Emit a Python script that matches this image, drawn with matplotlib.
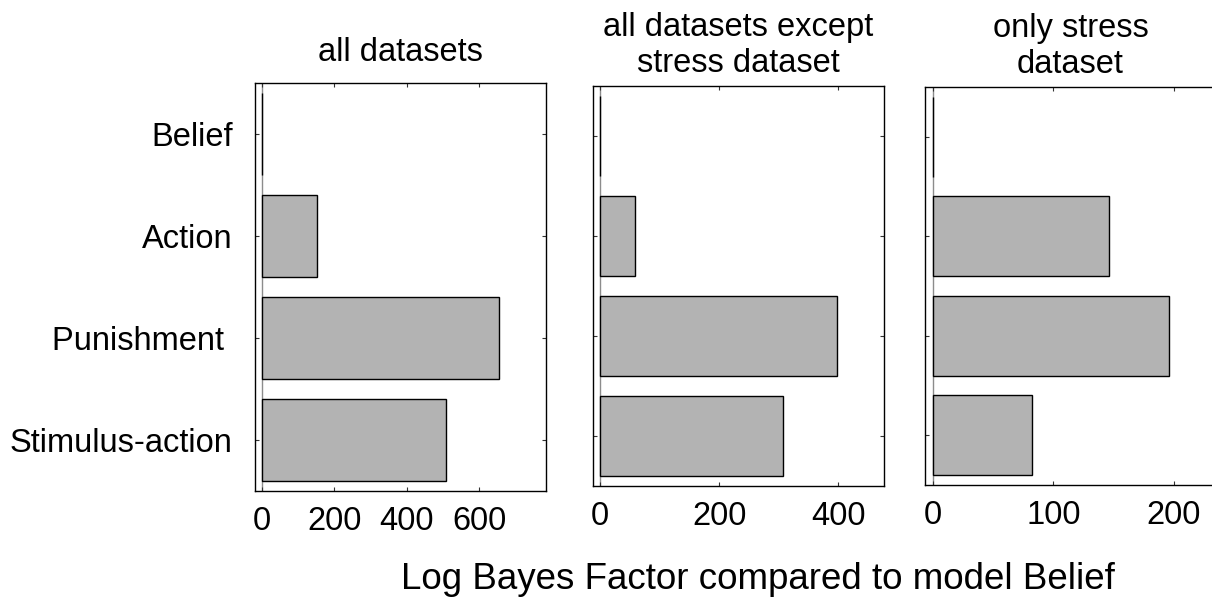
import matplotlib
matplotlib.use("Agg")
import matplotlib.pyplot as plt

plt.rcParams['font.family'] = ['Liberation Sans', 'DejaVu Sans']

models = ["Belief", "Action", "Punishment ", "Stimulus-action"]
bf_all = [0, 152, 654, 508]
bf_no_stress = [0, 59, 398, 308]
bf_stress = [0, 146, 196, 82]

titles = ["all datasets", "all datasets except\nstress dataset", "only stress\ndataset"]
xticks = [[0, 200, 400, 600], [0, 200, 400], [0, 100, 200]]
xlims = [(-19, 784), (-12, 477), (-6.4, 235)]

fig = plt.figure(figsize=(12.12, 5.99), dpi=100)
rects = [
    [0.2104, 0.1803, 0.2401, 0.6811],
    [0.4893, 0.1886, 0.2401, 0.6678],
    [0.7632, 0.1903, 0.2401, 0.6644],
]
pads = [16, 10, 10]

ypos = [1, 2, 3, 4]
for i, vals in enumerate([bf_all, bf_no_stress, bf_stress]):
    ax = fig.add_axes(rects[i])
    ax.axvline(0, color="#8c8c8c", lw=1.0, zorder=1)
    ax.barh(ypos, vals, height=0.8, color="#b3b3b3", edgecolor="black",
            linewidth=1.0, zorder=2)
    ax.set_ylim(4.5, 0.5)
    ax.set_xlim(*xlims[i])
    ax.set_yticks(ypos)
    ax.set_xticks(xticks[i])
    if i == 0:
        ax.set_yticklabels(models)
    else:
        ax.set_yticklabels([])
    ax.tick_params(direction="in", length=3, width=0.8, top=True, right=True,
                   labelsize=23.5, color="#333333")
    ax.tick_params(axis="y", pad=16)
    ax.tick_params(axis="x", pad=11)
    for s in ax.spines.values():
        s.set_linewidth(1.0)
    ax.set_title(titles[i], fontsize=23.5, pad=pads[i], linespacing=1.22)

fig.text(0.625, 0.032, "Log Bayes Factor compared to model Belief",
         ha="center", va="center", fontsize=26.5)

fig.savefig("out.png", dpi=100)
